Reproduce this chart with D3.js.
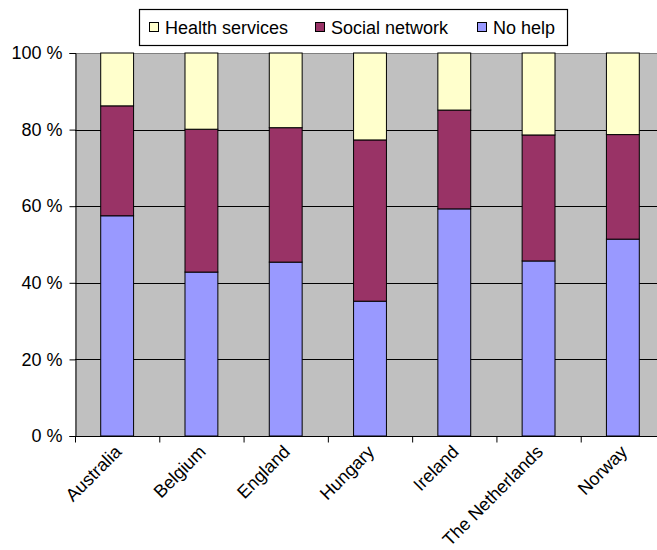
<!DOCTYPE html>
<html><head><meta charset="utf-8">
<script src="https://cdn.jsdelivr.net/npm/d3@7"></script>
<style>
html,body{margin:0;padding:0;background:#fff;overflow:hidden}
text{font-family:"Liberation Sans",Arial,sans-serif;fill:#000}
</style></head><body>
<svg id="chart" width="657" height="550"></svg>
<script>
const categories = ["Australia","Belgium","England","Hungary","Ireland","The Netherlands","Norway"];
const noHelp = [57.5, 42.8, 45.4, 35.2, 59.3, 45.7, 51.4];
const socialNetwork = [28.7, 37.3, 35.1, 42.1, 25.8, 32.9, 27.3];
const healthServices = [13.8, 19.9, 19.5, 22.7, 14.9, 21.4, 21.3];
const seriesNames = ["No help","Social network","Health services"];
const seriesColors = ["#9999FF","#993366","#FFFFCC"];
const yTicks = [0,20,40,60,80,100];

const svg = d3.select("#chart");
const m = {left:75, top:53, bottom:436, right:665};

const x = d3.scaleBand().domain(categories).range([m.left, m.right]).paddingInner(0).paddingOuter(0);
const y = d3.scaleLinear().domain([0,100]).range([m.bottom, m.top]);

// plot background
svg.append("rect").attr("x", m.left).attr("y", m.top)
  .attr("width", m.right - m.left).attr("height", m.bottom - m.top).attr("fill", "#C0C0C0");

// gridlines
svg.append("g").selectAll("line").data(yTicks.filter(d => d > 0)).join("line")
  .attr("x1", m.left).attr("x2", m.right)
  .attr("y1", d => Math.round(y(d)) + 0.5).attr("y2", d => Math.round(y(d)) + 0.5)
  .attr("stroke", d => d === 100 ? "#808080" : "#000").attr("stroke-width", 1);

// stacked data
const rows = categories.map((c, i) => ({cat: c, "No help": noHelp[i], "Social network": socialNetwork[i], "Health services": healthServices[i]}));
const stack = d3.stack().keys(seriesNames)(rows);
const bw = x.bandwidth() * 0.39;

svg.append("g").selectAll("g").data(stack).join("g")
  .attr("fill", (d, i) => seriesColors[i])
  .selectAll("rect").data(d => d).join("rect")
  .attr("x", d => x(d.data.cat) + (x.bandwidth() - bw) / 2)
  .attr("y", d => y(d[1]))
  .attr("width", bw)
  .attr("height", d => y(d[0]) - y(d[1]))
  .attr("stroke", "#000").attr("stroke-width", 1);

// y axis
const yAxis = svg.append("g").attr("transform", `translate(${m.left + 0.5},0)`)
  .call(d3.axisLeft(y).tickValues(yTicks).tickFormat(d => d + " %").tickSize(6).tickPadding(7));
yAxis.select(".domain").attr("stroke", "#000");
yAxis.selectAll("text").style("font-size", "18px").style("font-family", '"Liberation Sans",Arial,sans-serif');

// x axis
const xAxis = svg.append("g").attr("transform", `translate(0,${m.bottom + 0.5})`);
xAxis.append("line").attr("x1", m.left).attr("x2", m.right).attr("stroke", "#000");
const bounds = categories.map(c => x(c)).concat([m.right]);
xAxis.selectAll("line.tk").data(bounds).join("line").attr("class","tk")
  .attr("x1", d => d + 0.5).attr("x2", d => d + 0.5).attr("y1", 0).attr("y2", 6).attr("stroke", "#000");
xAxis.selectAll("text").data(categories).join("text")
  .attr("transform", d => `translate(${x(d) + x.bandwidth()/2 + 1},${12}) rotate(-45)`)
  .attr("text-anchor", "end").attr("dy", "0.35em")
  .style("font-size", "18px")
  .text(d => d);

// legend
const lg = svg.append("g");
lg.append("rect").attr("x", 139.5).attr("y", 9.5).attr("width", 428).attr("height", 36)
  .attr("fill", "#fff").attr("stroke", "#000").attr("stroke-width", 1.2);
const legendOrder = ["Health services","Social network","No help"];
const legendX = [149, 315, 477];
legendOrder.forEach((name, i) => {
  const ci = seriesNames.indexOf(name);
  lg.append("rect").attr("x", legendX[i] + 0.5).attr("y", 22.5).attr("width", 9).attr("height", 9)
    .attr("fill", seriesColors[ci]).attr("stroke", "#000").attr("stroke-width", 1);
  lg.append("text").attr("x", legendX[i] + 16).attr("y", 34).style("font-size", "18px").text(name);
});
</script>
</body></html>
